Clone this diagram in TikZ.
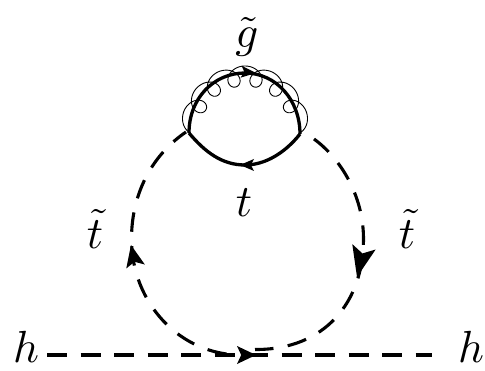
\documentclass[tikz,border=0pt]{standalone}
\usepackage{amsmath}
\tikzset{
  lab/.style={inner sep=0pt,scale=4.5},
  scalar/.style={line width=3.1pt,dash pattern=on 20pt off 13.5pt},
  arcscalar/.style={line width=3.1pt,dash pattern=on 19.5pt off 14.5pt},
  fermion/.style={line width=3.3pt,line join=round},
  gluon/.style={line width=0.9pt}
}
\newcommand{\ahead}[5]{\fill[shift={(#1,#2)},rotate=#3,x=#4pt,y=#5pt] (0,0)--(-1,.5)--(-.78,0)--(-1,-.5)--cycle;}
\begin{document}
\begin{tikzpicture}[x=1pt,y=1pt]
\useasboundingbox (0,0) rectangle (485,370);
\coordinate (hl) at (47,15);
\coordinate (hr) at (432,15);
\coordinate (bl) at (241,15);
\coordinate (br) at (255,20.5);
\coordinate (vl) at (189,237);
\coordinate (vr) at (300,236);
\coordinate (wl) at (186,238);
\coordinate (wr) at (314,231);
\coordinate (xl) at (131.5,131);
\coordinate (xr) at (363.5,131);
% external scalar
\draw[scalar] (hl) -- (hr);
% stop loop
\draw[arcscalar] (bl) [dash phase=19.5pt] .. controls (180,15) and (131.5,67) .. (xl) .. controls (131.5,180) and (155,217) .. (wl);
\draw[arcscalar] (wr) .. controls (340,212) and (363.5,175) .. (xr) .. controls (363.5,68) and (325,20) .. (br);
% top loop
\draw[fermion] (vl) .. controls (189,272) and (214,297) .. (245,297) .. controls (276,297) and (300,270) .. (vr);
\draw[fermion] (vr) .. controls (285,217) and (265,205) .. (245,205) .. controls (222,205) and (205,218) .. (vl);
% gluon
\draw[gluon] plot[variable=\t,domain=-90:2250,samples=500]
 ({245+(54+10*cos(\t))*cos(152.5-(\t-180)/14.4)+11*sin(\t)*sin(152.5-(\t-180)/14.4)},
  {240+(54+10*cos(\t))*sin(152.5-(\t-180)/14.4)-11*sin(\t)*cos(152.5-(\t-180)/14.4)});
% arrowheads
\ahead{256}{15}{0}{19}{18}
\ahead{131}{125}{102}{22}{19}
\ahead{357}{93}{-103}{31}{24}
\ahead{256}{297}{-5}{15}{12}
\ahead{240}{205}{180}{14}{12}
% labels
\node[lab] (g) at (247,333) {$\tilde{g}$};
\node[lab] (t) at (244,167) {$t$};
\node[lab] (tl) at (95,141) {$\tilde{t}$};
\node[lab] (tr) at (407,141) {$\tilde{t}$};
\node[lab] (h1) at (26,23) {$h$};
\node[lab] (h2) at (471,23) {$h$};
\end{tikzpicture}
\end{document}
